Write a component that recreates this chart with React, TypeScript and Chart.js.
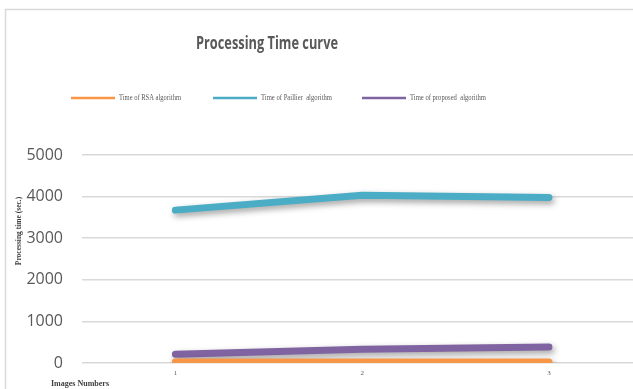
import React, { useEffect, useRef } from "react";
import { Chart, registerables } from "chart.js";

Chart.register(...registerables);

const chartTitle = "Processing Time curve";
const yAxisTitle = "Processing time (sec.)";
const xAxisTitle = "Images Numbers";
const imageNumbers = [1, 2, 3];
const seriesNames = ["Time of RSA algorithm", "Time of Paillier  algorithm", "Time of proposed  algorithm"];
const rsaTimes = [22, 25, 25];
const paillierTimes = [3675, 4035, 3980];
const proposedTimes = [210, 330, 385];
const yTickValues = [0, 1000, 2000, 3000, 4000, 5000];
const seriesColors = ["#F79646", "#4BACC6", "#8064A2"];

const decorPlugin = {
  id: "decor",
  beforeDatasetDraw(chart: any) {
    const ctx = chart.ctx;
    ctx.save();
    ctx.shadowColor = "rgba(0,0,0,0.38)";
    ctx.shadowBlur = 6;
    ctx.shadowOffsetX = 2;
    ctx.shadowOffsetY = 3;
  },
  afterDatasetDraw(chart: any) {
    chart.ctx.restore();
  },
  afterDraw(chart: any) {
    const ctx = chart.ctx;
    ctx.save();
    // outer border
    ctx.strokeStyle = "#d9d9d9";
    ctx.lineWidth = 1.5;
    ctx.strokeRect(5.5, 9.5, 700, 500);

    // title
    ctx.fillStyle = "#595959";
    ctx.font = "bold 17px 'Open Sans'";
    ctx.textAlign = "center";
    ctx.textBaseline = "middle";
    ctx.fillText(chartTitle, 267, 44, 142);

    // legend
    const lineStarts = [71, 213, 362];
    const textWidths = [62, 71, 76];
    ctx.font = "7.5px 'Liberation Serif'";
    ctx.textAlign = "left";
    seriesNames.forEach((name, i) => {
      const x = lineStarts[i];
      ctx.strokeStyle = seriesColors[i];
      ctx.lineWidth = 2.5;
      ctx.beginPath();
      ctx.moveTo(x, 98);
      ctx.lineTo(x + 44, 98);
      ctx.stroke();
      ctx.fillStyle = "#595959";
      ctx.fillText(name, x + 48, 98, textWidths[i]);
    });

    // y axis title
    ctx.save();
    ctx.translate(19, 231);
    ctx.rotate(-Math.PI / 2);
    ctx.font = "bold 7.5px 'Liberation Serif'";
    ctx.fillStyle = "#404040";
    ctx.textAlign = "center";
    ctx.fillText(yAxisTitle, 0, 0, 74);
    ctx.restore();

    // x axis title
    ctx.font = "bold 8px 'Liberation Serif'";
    ctx.fillStyle = "#404040";
    ctx.textAlign = "left";
    ctx.fillText(xAxisTitle, 51, 384, 58);
    ctx.restore();
  },
};

export default function App() {
  const ref = useRef<HTMLCanvasElement>(null);
  useEffect(() => {
    document.body.style.margin = "0";
    const mk = (vals: number[]) => vals.map((v, i) => ({ x: imageNumbers[i], y: v }));
    const chart = new Chart(ref.current!, {
      type: "line",
      data: {
        datasets: [
          { label: seriesNames[0], data: mk(rsaTimes), borderColor: seriesColors[0], backgroundColor: seriesColors[0] },
          { label: seriesNames[1], data: mk(paillierTimes), borderColor: seriesColors[1], backgroundColor: seriesColors[1] },
          { label: seriesNames[2], data: mk(proposedTimes), borderColor: seriesColors[2], backgroundColor: seriesColors[2] },
        ].map((d) => ({
          ...d,
          borderWidth: 7,
          borderCapStyle: "round",
          borderJoinStyle: "round",
          pointRadius: 0,
          tension: 0,
        })) as any,
      },
      options: {
        animation: false,
        responsive: false,
        layout: { padding: { top: 155, left: 0, right: 0, bottom: 0 } },
        plugins: { legend: { display: false }, title: { display: false }, tooltip: { enabled: false } },
        scales: {
          x: {
            type: "linear",
            min: 0.5,
            max: 3.45,
            grid: { display: false, drawTicks: false },
            border: { display: false },
            afterBuildTicks: (s: any) => {
              s.ticks = imageNumbers.map((v) => ({ value: v }));
            },
            afterFit: (s: any) => {
              s.height = 26;
              s.paddingLeft = 0;
              s.paddingRight = 0;
            },
            ticks: {
              padding: 6,
              color: "#595959",
              font: { family: "'Liberation Serif'", size: 7 },
              callback: (v: any) => String(v),
            },
          },
          y: {
            min: 0,
            max: 5000,
            afterBuildTicks: (s: any) => {
              s.ticks = yTickValues.map((v) => ({ value: v }));
            },
            afterFit: (s: any) => {
              s.width = 82;
              s.paddingTop = 0;
              s.paddingBottom = 0;
            },
            grid: { color: "#d9d9d9", lineWidth: 1.5, drawTicks: false },
            border: { display: false },
            ticks: {
              padding: 19,
              color: "#595959",
              font: { family: "'Open Sans'", size: 16 },
              callback: (v: any) => String(v),
            },
          },
        },
      },
      plugins: [decorPlugin],
    });
    return () => chart.destroy();
  }, []);
  return <canvas ref={ref} width={633} height={389} style={{ display: "block" }} />;
}
